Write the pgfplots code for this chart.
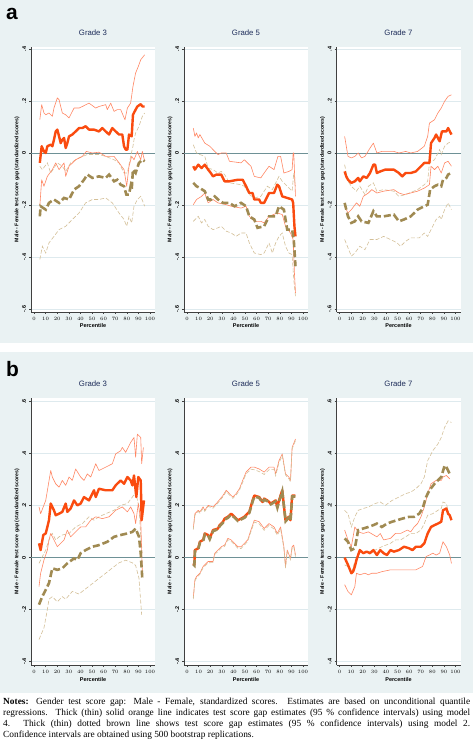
\documentclass[border=0pt]{standalone}
\usepackage{pgfplots}
\pgfplotsset{compat=1.18}
\usepackage{fontspec}
\setmainfont{Liberation Sans}
\newfontfamily\notefont{Liberation Serif}
\definecolor{bgc}{RGB}{234,242,243}
\definecolor{gridc}{RGB}{222,234,238}
\definecolor{zeroc}{RGB}{110,145,150}
\definecolor{orthick}{RGB}{250,75,15}
\definecolor{orthin}{RGB}{255,135,100}
\definecolor{brthick}{RGB}{160,138,82}
\definecolor{brthin}{RGB}{212,192,152}
\definecolor{titlec}{RGB}{30,45,90}
\pgfplotsset{
  gapbase/.style={
    scale only axis, width=124bp,
    xmin=-2.6, xmax=104.3,
    axis lines*=left,
    axis line style={draw=black!75, line width=0.6bp},
    axis background/.style={fill=white},
    xtick={0,10,...,100},
    tick align=outside, major tick length=2bp,
    tick style={black!75, line width=0.5bp},
    ymajorgrids, major grid style={gridc, line width=0.6bp},
    extra y ticks={0}, extra y tick labels={},
    extra y tick style={major grid style={zeroc, line width=0.9bp}},
    ticklabel style={font=\fontsize{5.5}{6}\selectfont\bfseries},
    xticklabel style={inner sep=3bp},
    yticklabel style={rotate=90, anchor=south, inner sep=2.8bp},
    xlabel={Percentile},
    xlabel style={font=\fontsize{5.5}{6}\selectfont\bfseries, at={(axis description cs:0.5,-0.053)}, anchor=center},
    ylabel={Male - Female test score gap (standardized scores)},
    ylabel style={font=\fontsize{5.2}{6}\selectfont\bfseries, at={(axis description cs:-0.113,0.5)}, anchor=center},
    title style={font=\fontsize{7.8}{8}\selectfont, text=titlec, at={(axis description cs:0.5,1)}, anchor=south, yshift=1.5bp},
  },
  pa/.style={gapbase, height=265bp, ymin=-0.612, ymax=0.408,
    ytick={-0.6,-0.4,-0.2,0,0.2,0.4}, yticklabels={-.6,-.4,-.2,0,.2,.4}},
  pb/.style={gapbase, height=267bp, ymin=-0.413, ymax=0.614,
    ytick={-0.4,-0.2,0,0.2,0.4,0.6}, yticklabels={-.4,-.2,0,.2,.4,.6}},
  m4/.style={orthick, line width=2.4bp, line join=round},
  m4ci/.style={orthin, line width=0.6bp, line join=round},
  m2/.style={brthick, line width=2.6bp, dash pattern=on 7bp off 3bp},
  m2ci/.style={brthin, line width=0.6bp, dash pattern=on 4bp off 2bp},
}
\begin{document}
\begin{tikzpicture}[x=1bp,y=1bp]
\useasboundingbox (0,0) rectangle (473,746);
\fill[bgc] (0,403) rectangle (473,746);
\fill[bgc] (0,53) rectangle (473,394);
\node[font=\fontsize{21}{21}\selectfont\bfseries] at (12,732) {a};
\node[font=\fontsize{21}{21}\selectfont\bfseries] at (12.5,377) {b};

% ---------------- Panel a, Grade 3
\begin{axis}[pa, at={(31bp,434bp)}, anchor=south west, title={Grade 3}]
\addplot[m2ci] coordinates {(5,-0.051)(7.2,-0.064)(11.5,-0.038)(14.4,-0.077)(20.1,-0.038)(24.4,-0.051)(27.3,-0.071)(31.6,-0.038)(38.8,-0.019)(46.0,-0.006)(56.0,-0.006)(61.8,-0.013)(69.0,-0.026)(73.3,-0.038)(77.6,-0.077)(80.5,-0.077)(83.3,-0.013)(85.3,0.026)(86.2,0.051)(87.6,0.077)(90.5,0.103)(93.4,0.141)(95.4,0.154)};
\addplot[m2ci] coordinates {(5,-0.410)(7.2,-0.359)(10.1,-0.385)(12.9,-0.346)(17.2,-0.321)(21.6,-0.295)(27.3,-0.282)(33.0,-0.256)(38.8,-0.231)(44.5,-0.192)(50.3,-0.179)(56.0,-0.179)(61.8,-0.173)(67.5,-0.192)(73.3,-0.231)(77.6,-0.256)(79.9,-0.282)(81.9,-0.244)(84.2,-0.269)(86.2,-0.205)(89.1,-0.179)(92.0,-0.167)(95.4,-0.205)};
\addplot[m4ci] coordinates {(5,0.128)(6.6,0.186)(8.6,0.154)(10.1,0.147)(12.9,0.154)(15.8,0.141)(17.2,0.173)(20.1,0.212)(21.6,0.205)(24.4,0.154)(27.3,0.147)(30.2,0.135)(34.5,0.173)(38.8,0.173)(41.7,0.179)(47.4,0.192)(53.2,0.173)(56.0,0.179)(61.8,0.186)(63.2,0.167)(66.1,0.192)(69.0,0.160)(71.8,0.167)(74.7,0.167)(78.4,0.128)(80.5,0.173)(83.3,0.192)(85.3,0.256)(87.6,0.308)(89.9,0.333)(92.0,0.359)(95.4,0.378)};
\addplot[m4ci] coordinates {(5,-0.205)(6.6,-0.103)(8.6,-0.128)(11.5,-0.090)(15.8,-0.064)(18.7,-0.038)(21.6,-0.064)(25.9,-0.038)(27.3,-0.090)(30.2,-0.051)(35.9,-0.026)(41.7,-0.013)(45.1,0.006)(50.3,0.0)(56.0,0.003)(61.8,-0.013)(69.0,-0.013)(73.3,-0.038)(77.6,-0.064)(79.9,-0.128)(81.9,-0.051)(84.2,-0.013)(86.2,-0.026)(89.1,0.006)(92.0,-0.026)(93.4,0.006)(95.4,-0.032)};
\addplot[m4] coordinates {(5,-0.038)(6.6,0.026)(8.6,0.006)(10.1,0.0)(11.5,0.026)(14.4,0.032)(15.8,0.026)(17.2,0.051)(18.7,0.083)(20.1,0.09)(21.6,0.064)(23.0,0.038)(24.4,0.051)(25.9,0.058)(27.3,0.019)(28.7,0.038)(30.2,0.064)(33.0,0.071)(35.9,0.083)(38.8,0.096)(41.7,0.096)(44.5,0.103)(47.4,0.09)(51.7,0.09)(56.0,0.083)(58.9,0.096)(61.8,0.083)(64.7,0.071)(67.5,0.096)(70.4,0.083)(73.3,0.071)(76.1,0.071)(77.6,0.026)(79.0,0.013)(80.5,0.013)(81.9,0.071)(84.2,0.064)(85.3,0.147)(87.6,0.167)(89.1,0.179)(92.0,0.188)(93.4,0.179)(95.4,0.179)};
\addplot[m2] coordinates {(5,-0.244)(5.7,-0.205)(10.1,-0.218)(12.9,-0.192)(17.2,-0.179)(21.6,-0.192)(25.9,-0.173)(30.2,-0.179)(34.5,-0.141)(38.8,-0.128)(43.1,-0.103)(46.0,-0.083)(50.3,-0.096)(56.0,-0.090)(61.8,-0.096)(64.7,-0.083)(69.0,-0.109)(71.8,-0.103)(74.7,-0.122)(77.6,-0.128)(79.6,-0.160)(81.9,-0.160)(83.3,-0.128)(84.2,-0.141)(85.3,-0.064)(87.6,-0.077)(90.5,-0.038)(93.4,-0.026)(95.4,-0.032)};
\end{axis}

% ---------------- Panel a, Grade 5
\begin{axis}[pa, at={(184bp,434bp)}, anchor=south west, title={Grade 5}]
\addplot[m2ci] coordinates {(5.4,0.032)(8.2,0.0)(11.1,-0.006)(15.3,-0.013)(18.2,-0.058)(22.4,-0.064)(26.7,-0.077)(29.5,-0.071)(32.4,-0.083)(36.6,-0.115)(46.6,-0.122)(49.4,-0.128)(53.7,-0.160)(58.0,-0.173)(63.6,-0.167)(69.3,-0.128)(73.6,-0.141)(79.3,-0.090)(82.1,-0.109)(86.4,-0.128)(90.6,-0.147)(92.0,-0.077)(93.5,-0.128)};
\addplot[m2ci] coordinates {(5.4,-0.263)(9.7,-0.244)(12.5,-0.269)(15.3,-0.256)(18.2,-0.282)(22.4,-0.295)(26.7,-0.288)(29.5,-0.282)(33.8,-0.301)(38.1,-0.308)(42.3,-0.321)(46.6,-0.308)(50.9,-0.308)(53.7,-0.346)(58.0,-0.385)(63.6,-0.391)(66.5,-0.385)(70.7,-0.346)(73.6,-0.385)(76.4,-0.346)(79.3,-0.321)(82.1,-0.308)(84.9,-0.359)(87.8,-0.385)(90.6,-0.391)(92.0,-0.487)(93.5,-0.551)};
\addplot[m4ci] coordinates {(5.4,0.096)(6.8,0.064)(8.2,0.077)(9.7,0.058)(11.1,0.071)(15.3,0.038)(19.6,0.026)(23.9,0.006)(26.7,-0.006)(29.5,0.0)(33.8,0.0)(36.6,-0.032)(46.6,-0.038)(49.4,-0.026)(55.1,-0.051)(58.0,-0.090)(63.6,-0.096)(66.5,-0.077)(70.7,-0.051)(75.0,-0.064)(78.4,-0.013)(80.7,-0.013)(83.5,-0.077)(87.8,-0.071)(90.6,-0.064)(91.5,0.0)(92.0,0.0)(93.5,-0.167)};
\addplot[m4ci] coordinates {(5.4,-0.199)(8.2,-0.179)(12.5,-0.167)(15.3,-0.154)(18.2,-0.192)(22.4,-0.179)(26.7,-0.192)(33.8,-0.199)(38.1,-0.205)(46.6,-0.212)(50.9,-0.205)(53.7,-0.244)(58.0,-0.263)(63.6,-0.263)(66.5,-0.269)(70.7,-0.244)(77.8,-0.231)(82.1,-0.237)(84.9,-0.282)(89.2,-0.308)(91.5,-0.333)(92.6,-0.462)(93.5,-0.538)};
\addplot[m4] coordinates {(5.4,-0.051)(6.8,-0.064)(9.7,-0.045)(12.5,-0.058)(15.3,-0.045)(18.2,-0.064)(20.5,-0.077)(22.4,-0.090)(25.3,-0.083)(29.5,-0.083)(32.4,-0.109)(36.6,-0.109)(43.8,-0.103)(48.0,-0.103)(50.9,-0.128)(53.7,-0.154)(56.5,-0.154)(58.0,-0.179)(62.2,-0.179)(63.6,-0.192)(66.5,-0.192)(70.7,-0.154)(75.0,-0.154)(77.8,-0.122)(79.3,-0.128)(82.1,-0.167)(86.4,-0.173)(90.6,-0.179)(91.5,-0.192)(92.6,-0.282)(93.5,-0.321)};
\addplot[m2] coordinates {(5.4,-0.115)(8.2,-0.128)(11.1,-0.135)(15.3,-0.147)(18.2,-0.179)(21.0,-0.179)(23.9,-0.167)(26.7,-0.179)(31.0,-0.192)(36.6,-0.192)(40.9,-0.205)(46.6,-0.192)(50.9,-0.205)(53.7,-0.244)(58.0,-0.256)(60.8,-0.288)(66.5,-0.282)(70.7,-0.244)(76.4,-0.244)(79.3,-0.205)(83.5,-0.218)(86.4,-0.295)(90.6,-0.295)(92.0,-0.333)(93.5,-0.436)};
\end{axis}

% ---------------- Panel a, Grade 7
\begin{axis}[pa, at={(336.5bp,434bp)}, anchor=south west, title={Grade 7}]
\addplot[m2ci] coordinates {(4.4,-0.045)(7.3,-0.109)(10.2,-0.128)(14.6,-0.147)(17.5,-0.128)(21.9,-0.160)(24.9,-0.128)(29.2,-0.115)(32.2,-0.147)(38.0,-0.141)(46.8,-0.147)(51.2,-0.167)(57.0,-0.160)(67.3,-0.141)(73.1,-0.122)(76.0,-0.109)(77.5,-0.038)(81.9,-0.026)(86.3,0.013)(87.7,-0.006)(90.6,0.026)(93.6,0.038)(96.5,0.045)};
\addplot[m2ci] coordinates {(4.4,-0.333)(7.3,-0.365)(10.2,-0.397)(13.2,-0.385)(17.5,-0.359)(21.9,-0.372)(26.3,-0.333)(32.2,-0.333)(38.0,-0.321)(43.9,-0.333)(49.7,-0.346)(52.6,-0.359)(57.0,-0.340)(61.4,-0.327)(68.7,-0.327)(73.1,-0.308)(76.0,-0.321)(78.9,-0.295)(83.3,-0.256)(86.3,-0.244)(87.7,-0.256)(90.6,-0.218)(93.6,-0.192)(96.5,-0.218)};
\addplot[m4ci] coordinates {(4.4,0.064)(7.3,-0.013)(10.2,-0.019)(13.2,-0.013)(16.1,0.0)(19.0,-0.019)(21.9,-0.013)(26.3,0.019)(29.2,0.038)(32.2,0.0)(36.5,0.006)(46.8,0.006)(51.2,0.0)(57.0,0.006)(61.4,0.0)(67.3,0.006)(73.1,0.026)(76.0,0.064)(77.5,0.115)(81.9,0.128)(84.8,0.154)(87.7,0.173)(90.6,0.199)(93.6,0.218)(96.5,0.224)};
\addplot[m4ci] coordinates {(4.4,-0.205)(7.3,-0.231)(10.2,-0.218)(14.6,-0.192)(17.5,-0.205)(20.5,-0.167)(24.9,-0.154)(27.8,-0.141)(32.2,-0.154)(38.0,-0.147)(46.8,-0.141)(51.2,-0.154)(55.6,-0.160)(61.4,-0.154)(67.3,-0.147)(73.1,-0.135)(77.5,-0.122)(78.9,-0.051)(81.9,-0.064)(84.8,-0.051)(87.7,-0.077)(90.6,-0.038)(93.6,-0.032)(96.5,-0.051)};
\addplot[m4] coordinates {(4.4,-0.071)(5.8,-0.090)(7.3,-0.103)(10.2,-0.115)(13.2,-0.109)(16.1,-0.096)(17.5,-0.109)(20.5,-0.090)(23.4,-0.096)(26.3,-0.077)(29.2,-0.045)(30.7,-0.045)(32.2,-0.077)(35.1,-0.071)(39.5,-0.064)(46.8,-0.064)(51.2,-0.077)(54.1,-0.090)(57.0,-0.077)(61.4,-0.077)(65.8,-0.071)(68.7,-0.058)(73.1,-0.038)(77.5,-0.038)(78.9,0.038)(81.9,0.058)(83.3,0.071)(86.3,0.045)(88.3,0.083)(92.1,0.083)(93.6,0.096)(96.5,0.071)};
\addplot[m2] coordinates {(4.4,-0.192)(7.3,-0.244)(10.2,-0.269)(13.2,-0.263)(16.1,-0.244)(19.0,-0.263)(24.9,-0.269)(29.2,-0.224)(32.2,-0.244)(38.0,-0.244)(46.8,-0.237)(51.2,-0.263)(55.6,-0.256)(61.4,-0.244)(67.3,-0.218)(73.1,-0.205)(76.0,-0.199)(78.1,-0.141)(81.9,-0.128)(84.8,-0.122)(87.7,-0.128)(89.2,-0.103)(92.1,-0.096)(93.6,-0.083)(96.5,-0.077)};
\end{axis}

% ---------------- Panel b, Grade 3
\begin{axis}[pb, at={(31bp,81bp)}, anchor=south west, title={Grade 3}]
\addplot[m2ci] coordinates {(4.3,-0.022)(7.2,0.004)(10.1,0.029)(12.9,0.068)(15.8,0.093)(18.7,0.068)(21.6,0.080)(24.4,0.087)(30.2,0.093)(35.9,0.118)(41.7,0.131)(47.4,0.157)(51.7,0.144)(56.0,0.157)(61.8,0.169)(69.0,0.182)(74.7,0.201)(80.5,0.208)(84.8,0.233)(87.6,0.252)(90.5,0.195)(92.0,0.080)(93.4,0.017)};
\addplot[m2ci] coordinates {(4.3,-0.315)(5.7,-0.300)(8.6,-0.270)(11.5,-0.200)(12.9,-0.160)(15.8,-0.150)(20.1,-0.170)(24.4,-0.150)(27.3,-0.160)(33.0,-0.130)(38.8,-0.140)(44.5,-0.120)(50.3,-0.100)(56.0,-0.080)(61.8,-0.060)(67.5,-0.040)(73.3,-0.020)(79.0,-0.010)(84.8,-0.020)(87.6,-0.030)(90.5,-0.080)(92.8,-0.220)};
\addplot[m4ci] coordinates {(4.3,0.195)(5.7,0.169)(10.1,0.220)(14.4,0.335)(15.8,0.310)(18.7,0.284)(21.6,0.271)(24.4,0.297)(27.3,0.278)(30.2,0.310)(33.0,0.297)(35.9,0.341)(40.2,0.310)(43.1,0.297)(46.0,0.322)(48.9,0.310)(53.2,0.361)(56.0,0.335)(61.8,0.348)(67.5,0.361)(70.4,0.399)(74.7,0.411)(76.1,0.424)(79.0,0.405)(83.3,0.443)(86.2,0.462)(87.6,0.386)(89.1,0.475)(92.0,0.462)(92.8,0.361)(94.3,0.424)};
\addplot[m4ci] coordinates {(4.3,-0.111)(5.7,-0.060)(8.6,-0.009)(11.5,0.029)(12.9,0.068)(14.4,0.093)(17.2,0.068)(20.1,0.042)(23.0,0.055)(25.9,0.068)(28.7,0.106)(31.6,0.080)(34.5,0.093)(40.2,0.118)(44.5,0.118)(48.9,0.144)(53.2,0.157)(58.9,0.150)(64.7,0.157)(70.4,0.182)(76.1,0.195)(80.5,0.176)(83.3,0.195)(86.2,0.169)(87.6,0.131)(89.9,0.208)(92.0,0.144)(93.4,-0.060)};
\addplot[m4] coordinates {(4.3,0.055)(5.7,0.029)(8.0,0.087)(10.1,0.093)(11.5,0.118)(12.9,0.144)(14.4,0.208)(15.8,0.195)(17.2,0.182)(18.7,0.163)(21.6,0.169)(24.4,0.176)(27.3,0.208)(28.7,0.176)(31.6,0.189)(34.5,0.220)(37.4,0.201)(40.2,0.208)(43.1,0.233)(47.4,0.220)(51.7,0.259)(53.2,0.233)(56.0,0.265)(61.8,0.259)(67.5,0.259)(70.4,0.278)(74.7,0.297)(77.6,0.284)(80.5,0.310)(83.3,0.297)(84.8,0.278)(86.2,0.316)(88.2,0.233)(89.9,0.310)(92.0,0.297)(92.8,0.144)(94.8,0.220)};
\addplot[m2] coordinates {(4.3,-0.181)(7.2,-0.149)(10.1,-0.124)(12.9,-0.098)(15.8,-0.041)(20.1,-0.047)(24.4,-0.041)(28.7,-0.022)(34.5,-0.003)(37.4,-0.009)(40.2,0.017)(44.5,0.029)(50.3,0.042)(56.0,0.048)(63.2,0.061)(69.0,0.080)(74.7,0.087)(80.5,0.093)(84.8,0.099)(87.6,0.112)(90.5,0.080)(92.0,0.017)(93.4,-0.085)};
\end{axis}

% ---------------- Panel b, Grade 5
\begin{axis}[pb, at={(184bp,81bp)}, anchor=south west, title={Grade 5}]
\addplot[m4ci] coordinates {(5.4,0.112)(6.8,0.169)(9.7,0.182)(11.1,0.176)(13.9,0.195)(15.3,0.182)(18.2,0.201)(22.4,0.195)(25.3,0.208)(31.0,0.239)(33.8,0.259)(36.6,0.246)(39.5,0.233)(42.3,0.246)(45.2,0.265)(48.0,0.297)(50.9,0.329)(55.1,0.348)(58.0,0.348)(62.2,0.341)(66.5,0.329)(70.7,0.348)(75.0,0.348)(76.4,0.322)(79.3,0.373)(82.1,0.399)(84.9,0.322)(87.8,0.310)(89.2,0.297)(90.6,0.424)(93.5,0.456)};
\addplot[m4ci] coordinates {(5.4,-0.155)(6.8,-0.085)(8.2,-0.073)(11.1,-0.060)(13.9,-0.034)(18.2,-0.015)(22.4,-0.015)(23.9,0.017)(26.7,0.029)(29.5,0.042)(32.4,0.048)(35.2,0.074)(38.1,0.068)(40.9,0.055)(43.8,0.042)(46.6,0.042)(52.3,0.068)(55.1,0.106)(58.0,0.144)(62.2,0.138)(66.5,0.112)(70.7,0.131)(75.0,0.118)(77.8,0.093)(80.7,0.118)(83.5,0.042)(84.9,-0.034)(86.4,0.029)(89.2,-0.003)(90.6,0.042)(92.0,0.048)(93.5,0.010)};
\addplot[m2ci] coordinates {(5.4,0.108)(6.8,0.163)(9.7,0.178)(11.1,0.171)(13.9,0.190)(15.3,0.178)(18.2,0.197)(22.4,0.190)(25.3,0.203)(31.0,0.234)(33.8,0.254)(36.6,0.241)(39.5,0.228)(42.3,0.240)(45.2,0.259)(48.0,0.290)(50.9,0.322)(55.1,0.340)(58.0,0.338)(62.2,0.331)(66.5,0.320)(70.7,0.338)(75.0,0.340)(76.4,0.315)(79.3,0.365)(82.1,0.392)(84.9,0.318)(87.8,0.303)(89.2,0.292)(90.6,0.418)(93.5,0.450)};
\addplot[m2ci] coordinates {(5.4,-0.160)(6.8,-0.090)(8.2,-0.078)(11.1,-0.064)(13.9,-0.039)(18.2,-0.020)(22.4,-0.019)(23.9,0.012)(26.7,0.024)(29.5,0.037)(32.4,0.043)(35.2,0.069)(38.1,0.062)(40.9,0.050)(43.8,0.036)(46.6,0.035)(52.3,0.062)(55.1,0.100)(58.0,0.137)(62.2,0.130)(66.5,0.105)(70.7,0.124)(75.0,0.110)(77.8,0.086)(80.7,0.110)(83.5,0.036)(84.9,-0.040)(86.4,0.022)(89.2,-0.008)(90.6,0.036)(92.0,0.042)(93.5,0.004)};
\addplot[m4] coordinates {(5.4,-0.022)(6.3,-0.028)(6.8,0.029)(9.7,0.036)(11.1,0.061)(13.9,0.068)(15.3,0.093)(18.2,0.087)(19.6,0.074)(22.4,0.106)(26.7,0.112)(28.1,0.125)(31.0,0.138)(32.4,0.150)(35.2,0.157)(38.1,0.169)(40.9,0.157)(43.8,0.144)(46.6,0.150)(49.4,0.157)(53.7,0.176)(56.5,0.220)(58.0,0.239)(62.2,0.233)(65.1,0.214)(66.5,0.227)(69.3,0.220)(72.2,0.208)(76.4,0.220)(77.8,0.195)(79.3,0.220)(82.1,0.259)(84.9,0.144)(87.8,0.157)(89.2,0.144)(90.6,0.239)(93.5,0.239)};
\addplot[m2] coordinates {(5.4,-0.026)(6.3,-0.030)(6.9,0.025)(9.7,0.033)(11.2,0.058)(13.9,0.064)(15.4,0.089)(18.2,0.084)(19.6,0.071)(22.5,0.102)(26.7,0.109)(28.2,0.121)(31.0,0.134)(32.5,0.146)(35.2,0.153)(38.1,0.165)(40.9,0.154)(43.8,0.141)(46.6,0.147)(49.4,0.153)(53.7,0.172)(56.6,0.216)(58.1,0.235)(62.2,0.230)(65.1,0.211)(66.6,0.223)(69.3,0.217)(72.2,0.205)(76.4,0.216)(77.9,0.192)(79.4,0.216)(82.1,0.255)(85.0,0.140)(87.8,0.154)(89.2,0.141)(90.7,0.235)(93.5,0.235)};
\end{axis}

% ---------------- Panel b, Grade 7
\begin{axis}[pb, at={(336.5bp,81bp)}, anchor=south west, title={Grade 7}]
\addplot[m2ci] coordinates {(4.4,0.182)(7.3,0.169)(10.2,0.118)(13.2,0.157)(16.1,0.182)(20.5,0.189)(24.9,0.195)(30.7,0.208)(35.1,0.214)(39.5,0.201)(45.3,0.220)(51.2,0.233)(57.0,0.246)(61.4,0.252)(65.8,0.265)(70.2,0.284)(73.1,0.310)(76.0,0.373)(80.4,0.411)(84.8,0.437)(87.7,0.462)(90.6,0.501)(93.6,0.526)(96.5,0.520)};
\addplot[m2ci] coordinates {(4.4,-0.028)(7.3,-0.034)(10.2,-0.060)(13.2,-0.015)(16.1,0.017)(20.5,0.017)(24.9,0.023)(30.7,0.029)(36.5,0.042)(43.9,0.055)(48.2,0.068)(52.6,0.068)(57.0,0.080)(61.4,0.093)(65.8,0.093)(70.2,0.106)(73.1,0.131)(76.0,0.163)(80.4,0.169)(84.8,0.182)(87.7,0.189)(89.2,0.214)(92.1,0.208)(95.0,0.157)};
\addplot[m4ci] coordinates {(4.4,0.106)(7.3,0.068)(10.2,0.042)(13.2,0.118)(16.1,0.099)(20.5,0.093)(24.9,0.099)(32.2,0.080)(35.1,0.093)(38.0,0.068)(43.9,0.074)(48.2,0.093)(52.6,0.093)(58.5,0.106)(61.4,0.099)(64.3,0.118)(67.3,0.131)(70.2,0.157)(73.1,0.195)(76.0,0.246)(78.9,0.284)(83.3,0.297)(87.7,0.297)(89.2,0.310)(92.1,0.316)(95.0,0.303)};
\addplot[m4ci] coordinates {(4.4,-0.104)(7.3,-0.130)(10.2,-0.143)(13.2,-0.111)(14.6,-0.060)(17.5,-0.066)(21.9,-0.060)(24.9,-0.066)(27.8,-0.060)(32.2,-0.060)(36.5,-0.054)(43.9,-0.047)(51.2,-0.047)(58.5,-0.047)(65.8,-0.047)(71.6,-0.034)(74.6,0.004)(77.5,0.010)(80.4,0.017)(83.3,0.010)(86.3,0.017)(89.2,0.061)(92.1,0.042)(95.0,0.010)(96.5,-0.022)};
\addplot[m4] coordinates {(4.4,0.0)(7.3,-0.028)(10.2,-0.060)(11.7,-0.054)(13.2,-0.034)(14.6,-0.009)(17.5,0.029)(20.5,0.017)(23.4,0.023)(26.3,0.017)(29.2,0.029)(32.2,0.010)(35.1,0.029)(38.0,0.017)(40.9,0.010)(43.9,0.029)(46.8,0.023)(51.2,0.029)(55.6,0.042)(59.9,0.036)(62.9,0.029)(65.8,0.042)(70.2,0.042)(73.1,0.055)(76.0,0.093)(78.9,0.118)(81.9,0.125)(84.8,0.131)(87.7,0.138)(89.2,0.182)(92.1,0.189)(93.6,0.169)(95.0,0.163)(96.5,0.144)};
\addplot[m2] coordinates {(4.4,0.074)(7.3,0.061)(10.2,0.029)(13.2,0.036)(16.1,0.106)(20.5,0.112)(24.9,0.118)(29.2,0.125)(32.2,0.131)(36.5,0.118)(40.9,0.131)(45.3,0.138)(49.7,0.144)(54.1,0.150)(59.9,0.157)(64.3,0.157)(68.7,0.169)(71.6,0.189)(74.6,0.233)(77.5,0.259)(81.9,0.284)(84.8,0.297)(87.7,0.310)(90.6,0.354)(92.1,0.348)(93.6,0.335)(95.0,0.322)};
\end{axis}

\node[anchor=north west, inner sep=0pt, text width=467bp, align=justify,
      font=\notefont\fontsize{9.4}{11}\selectfont] at (3,48)
{{\bfseries Notes:} Gender test score gap: Male - Female, standardized scores. Estimates are based on unconditional quantile\linebreak regressions. Thick (thin) solid orange line indicates test score gap estimates (95 \% confidence intervals) using model\linebreak 4. Thick (thin) dotted brown line shows test score gap estimates (95 \% confidence intervals) using model 2.\linebreak Confidence intervals are obtained using 500 bootstrap replications.};
\end{tikzpicture}
\end{document}
